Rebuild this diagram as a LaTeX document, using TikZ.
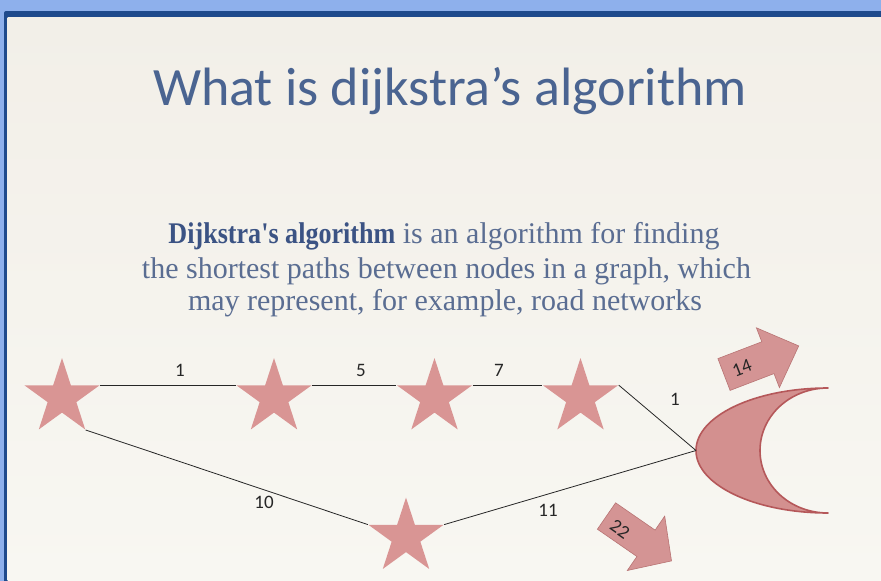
\documentclass[tikz,border=0pt]{standalone}
\usepackage{fontspec}
\setmainfont{Liberation Serif}
\newfontfamily\plainserif{Liberation Serif}[Ligatures=ResetAll]
\newfontfamily\carlito{Carlito}
\usetikzlibrary{shapes.geometric}
\definecolor{outerblue}{HTML}{8EB0EC}
\definecolor{darkblue}{HTML}{1F4A8C}
\definecolor{creamtop}{HTML}{F2EFE8}
\definecolor{creambot}{HTML}{F8F7F2}
\definecolor{titleblue}{HTML}{4A6491}
\definecolor{bodyblue}{HTML}{5A6D92}
\definecolor{boldblue}{HTML}{3B5384}
\definecolor{starpink}{HTML}{D99594}
\definecolor{moonfill}{HTML}{D3908F}
\definecolor{moonedge}{HTML}{B5585A}
\definecolor{arrowfill}{HTML}{D49494}
\definecolor{arrowedge}{HTML}{B87474}
\begin{document}
\begin{tikzpicture}[x=1pt,y=-1pt,
  starnode/.style={star,star points=5,star point ratio=2.618,minimum size=79pt,inner sep=0pt,fill=starpink,draw=none},
  edge/.style={draw=black!85,line width=0.8pt},
  wlabel/.style={font=\carlito\fontsize{19}{22}\selectfont,text=black!85,inner sep=0pt},
  blockarrow/.style={fill=arrowfill,draw=arrowedge,line width=0.6pt,line join=miter},
  bodytext/.style={anchor=base,font=\fontsize{30}{34}\selectfont,text=bodyblue,inner sep=0pt},
]
\useasboundingbox (0,0) rectangle (881,581);
\fill[outerblue] (0,0) rectangle (881,581);
\fill[darkblue,rounded corners=2pt] (4,11) rectangle (890,590);
\shade[top color=creamtop,bottom color=creambot] (7.5,17) rectangle (881,581);

\node[anchor=base,font=\carlito\fontsize{54}{60}\selectfont,text=titleblue,inner sep=0pt] (title) at (450,105) {What is dijkstra’s algorithm};

\node[bodytext] (p1) at (444,243) {\textcolor{boldblue}{\scalebox{0.87}[1]{\plainserif\bfseries Dijkstra's algorithm}} is an algorithm for finding};
\node[bodytext] (p2) at (446.5,278) {the shortest paths between nodes in a graph, which};
\node[bodytext] (p3) at (445,310) {may represent, for example, road networks};

\node[starnode] (s1) at (62,397.5) {};
\node[starnode] (s2) at (274,397.5) {};
\node[starnode] (s3) at (434.5,397.5) {};
\node[starnode] (s4) at (580.5,397.5) {};
\node[starnode] (s5) at (406,537) {};

\coordinate (moontip) at (696,450.5);
\filldraw[fill=moonfill,draw=moonedge,line width=1.6pt,line join=round]
  (828,388) .. controls (755,388) and (696,416) .. (moontip)
  .. controls (696,485) and (755,513) .. (828,513)
  .. controls (790,513) and (760,485) .. (760,450.5)
  .. controls (760,416) and (790,388) .. (828,388) -- cycle;

\draw[edge] (s1.outer point 5) -- (s2.outer point 2);
\draw[edge] (s2.outer point 5) -- (s3.outer point 2);
\draw[edge] (s3.outer point 5) -- (s4.outer point 2);
\draw[edge] (s4.outer point 5) -- (moontip);
\draw[edge] (s1.outer point 4) -- (s5.outer point 2);
\draw[edge] (s5.outer point 5) -- (moontip);

\node[wlabel] (w1) at (180,370) {1};
\node[wlabel] (w2) at (361,370) {5};
\node[wlabel] (w3) at (499,370) {7};
\node[wlabel] (w4) at (675,399) {1};
\node[wlabel] (w5) at (264,502) {10};
\node[wlabel] (w6) at (548,510) {11};

\draw[blockarrow] (717.9,358.6) -- (761.8,341.8) -- (756.4,327.8) -- (798.7,345.9)
  -- (779.4,387.6) -- (774,373.6) -- (730.1,390.4) -- cycle;
\node[wlabel,rotate=21] (t14) at (742,368) {14};
\draw[blockarrow] (615.6,502.8) -- (655.1,530.1) -- (664.7,516.1) -- (671.5,560.9)
  -- (627.3,570.5) -- (636.9,556.5) -- (597.4,529.2) -- cycle;
\node[wlabel,rotate=-35] (t22) at (620,529) {22};
\end{tikzpicture}
\end{document}
